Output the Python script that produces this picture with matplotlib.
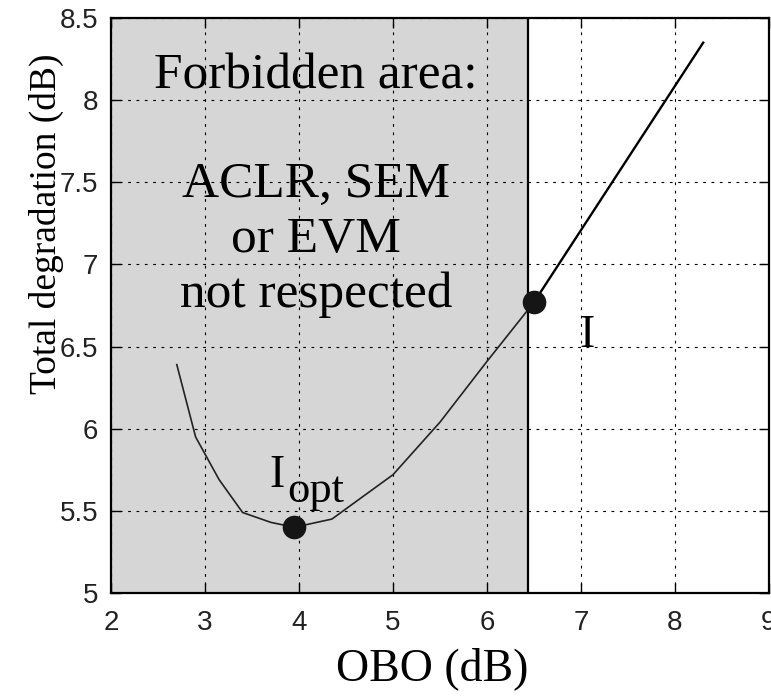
import numpy as np
import matplotlib.pyplot as plt
from matplotlib.patches import Rectangle

# data
obo = [2.7, 2.9, 3.15, 3.4, 3.7, 3.95, 4.35, 5.0, 5.5, 6.0, 6.5]
degradation = [6.39, 5.95, 5.69, 5.49, 5.43, 5.40, 5.45, 5.72, 6.04, 6.41, 6.77]
obo_high = [6.5, 8.3]
degradation_high = [6.77, 8.35]
forbidden_limit = 6.44
opt_point = (3.95, 5.40)
op_point = (6.5, 6.77)

serif = ['Liberation Serif', 'DejaVu Serif']
sans = ['Liberation Sans', 'DejaVu Sans']

fig = plt.figure(figsize=(7.71, 6.97), dpi=100)
ax = fig.add_axes([111 / 771, 1 - 593 / 697, 658 / 771, 575 / 697])

ax.set_xlim(2, 9)
ax.set_ylim(5, 8.5)
ax.set_xticks(np.arange(2, 10, 1))
ax.set_yticks(np.arange(5, 8.51, 0.5))
ax.set_xticklabels([f'{v:g}' for v in np.arange(2, 10, 1)])
ax.set_yticklabels([f'{v:g}' for v in np.arange(5, 8.51, 0.5)])

# forbidden area
ax.add_patch(Rectangle((2, 5), forbidden_limit - 2, 3.5, facecolor='#d6d6d6',
                       edgecolor='none', zorder=0))
ax.axvline(forbidden_limit, color='black', lw=1.6, zorder=2)

ax.grid(True, color='black', linestyle=(0, (2.5, 5)), linewidth=0.8)
ax.set_axisbelow(False)

ax.plot(obo, degradation, color='#222222', lw=1.2, zorder=3)
ax.plot(obo_high, degradation_high, color='black', lw=1.7, zorder=3)
ax.plot(*opt_point, 'o', color='#151515', markersize=16, zorder=4)
ax.plot(*op_point, 'o', color='#151515', markersize=16, zorder=4)

# labels inside plot
box_x = 4.18
ax.text(box_x, 8.07, 'Forbidden area:', ha='center', va='baseline',
        fontsize=37, family=serif, zorder=1)
ax.text(box_x, 7.41, 'ACLR, SEM', ha='center', va='baseline',
        fontsize=37, family=serif, zorder=1)
ax.text(box_x, 7.075, 'or EVM', ha='center', va='baseline',
        fontsize=37, family=serif, zorder=1)
ax.text(box_x, 6.74, 'not respected', ha='center', va='baseline',
        fontsize=37, family=serif, zorder=1)

ax.text(3.69, 5.645, 'I', ha='left', va='baseline', fontsize=33, family=serif)
ax.text(3.88, 5.555, 'opt', ha='left', va='baseline', fontsize=32, family=serif)
ax.text(7.06, 6.5, 'I', ha='center', va='baseline', fontsize=33, family=serif)

ax.set_xlabel('OBO (dB)', fontsize=33, family=serif)
ax.xaxis.set_label_coords(0.488, -0.095)
ax.xaxis.label.set_va('top')
ax.set_ylabel('Total degradation (dB)', fontsize=27, family=serif)
ax.yaxis.set_label_coords(-0.072, 0.642)

ax.tick_params(direction='in', length=7, width=1, top=True, right=True,
               labelsize=20, labelcolor='#222222')
ax.tick_params(axis='x', pad=12)
ax.tick_params(axis='y', pad=9)
for lab in ax.get_xticklabels() + ax.get_yticklabels():
    lab.set_family(sans)
for sp in ax.spines.values():
    sp.set_linewidth(1.6)

fig.savefig('out.png', dpi=100)
